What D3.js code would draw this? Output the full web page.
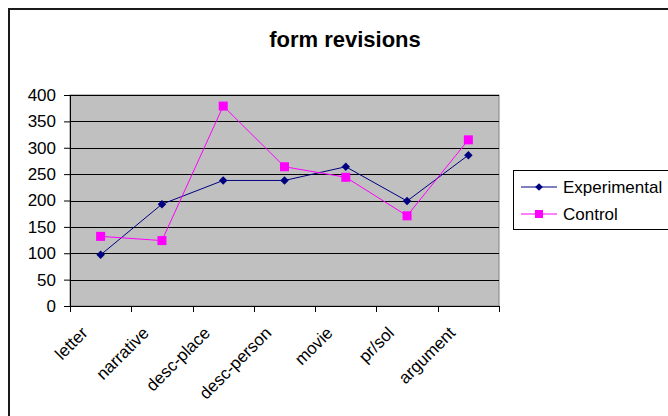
<!DOCTYPE html>
<html>
<head>
<meta charset="utf-8">
<script src="https://cdn.jsdelivr.net/npm/d3@7"></script>
<style>
  html, body { margin: 0; padding: 0; background: #fff; }
  svg { display: block; font-family: "Liberation Sans", Arial, sans-serif; }
</style>
</head>
<body>
<svg id="chart" width="668" height="416"></svg>
<script>
// Writing categories and revision counts per group
const categories = ["letter", "narrative", "desc-place", "desc-person", "movie", "pr/sol", "argument"];
const experimental = [97, 193, 238, 238, 264, 199, 286];
const control = [132, 124, 379, 264, 244, 171, 315];
const yTicks = [0, 50, 100, 150, 200, 250, 300, 350, 400];
const seriesNames = ["Experimental", "Control"];

const svg = d3.select("#chart");
const W = 668, H = 416;
const plot = { left: 70, right: 499, top: 95, bottom: 306 };

// Chart frame (only its top and left edges fall inside the view)
svg.append("path")
  .attr("d", `M9,${H} L9,9 L${W},9`)
  .attr("fill", "none")
  .attr("stroke", "#1a1a1a")
  .attr("stroke-width", 2);

// Title
svg.append("text")
  .attr("x", 345).attr("y", 47)
  .attr("text-anchor", "middle")
  .attr("font-size", 22).attr("font-weight", "bold")
  .text("form revisions");

const x = d3.scaleBand().domain(categories).range([plot.left, plot.right]).padding(0);
const y = d3.scaleLinear().domain([0, 400]).range([plot.bottom, plot.top]);

// Plot background
svg.append("rect")
  .attr("x", plot.left).attr("y", plot.top)
  .attr("width", plot.right - plot.left).attr("height", plot.bottom - plot.top)
  .attr("fill", "#c0c0c0")
  .attr("stroke", "#808080").attr("stroke-width", 1);

// Horizontal gridlines
svg.append("g").selectAll("line").data(yTicks.filter(d => d > 0)).join("line")
  .attr("x1", plot.left).attr("x2", plot.right)
  .attr("y1", d => Math.round(y(d)) + 0.5).attr("y2", d => Math.round(y(d)) + 0.5)
  .attr("stroke", "#000").attr("stroke-width", 1);

// Y axis
const yAxis = d3.axisLeft(y).tickValues(yTicks).tickSize(6).tickPadding(8).tickFormat(d3.format("d"));
const gy = svg.append("g").attr("transform", `translate(${plot.left},0)`).call(yAxis);
gy.select(".domain").attr("stroke", "#000");
gy.selectAll(".tick line").attr("stroke", "#000");
gy.selectAll(".tick text").attr("font-size", 17).attr("fill", "#000")
  .attr("font-family", "'Liberation Sans', Arial, sans-serif");

// X axis with ticks on category boundaries
const boundaries = categories.map(c => x(c)).concat([plot.right]);
svg.append("line")
  .attr("x1", plot.left).attr("x2", plot.right)
  .attr("y1", plot.bottom + 0.5).attr("y2", plot.bottom + 0.5)
  .attr("stroke", "#000");
svg.append("g").selectAll("line").data(boundaries).join("line")
  .attr("x1", d => Math.round(d) + 0.5).attr("x2", d => Math.round(d) + 0.5)
  .attr("y1", plot.bottom).attr("y2", plot.bottom + 6)
  .attr("stroke", "#000");

// Rotated category labels
svg.append("g").selectAll("text").data(categories).join("text")
  .attr("text-anchor", "end")
  .attr("font-size", 17)
  .attr("transform", d => `translate(${x(d) + x.bandwidth() / 2 - 12},${plot.bottom + 28}) rotate(-45)`)
  .text(d => d);

const cx = d => x(d) + x.bandwidth() / 2;
const line = d3.line().x(d => cx(d.c)).y(d => y(d.v));
const toPts = arr => categories.map((c, i) => ({ c, v: arr[i] }));

// Series lines
svg.append("path").datum(toPts(experimental))
  .attr("d", line).attr("fill", "none").attr("stroke", "#000080").attr("stroke-width", 1);
svg.append("path").datum(toPts(control))
  .attr("d", line).attr("fill", "none").attr("stroke", "#ff00ff").attr("stroke-width", 1);

// Control markers: squares
svg.append("g").selectAll("rect").data(toPts(control)).join("rect")
  .attr("x", d => cx(d.c) - 4.5).attr("y", d => y(d.v) - 4.5)
  .attr("width", 9).attr("height", 9).attr("fill", "#ff00ff");

// Experimental markers: diamonds
svg.append("g").selectAll("path").data(toPts(experimental)).join("path")
  .attr("d", d3.symbol().type(d3.symbolSquare).size(36))
  .attr("transform", d => `translate(${cx(d.c)},${y(d.v)}) rotate(45)`)
  .attr("fill", "#000080");

// Legend
const lg = svg.append("g");
lg.append("rect").attr("x", 513.5).attr("y", 170.5).attr("width", 170).attr("height", 59)
  .attr("fill", "#fff").attr("stroke", "#000");
const legendItems = [
  { name: seriesNames[0], color: "#000080", shape: "diamond", yy: 187 },
  { name: seriesNames[1], color: "#ff00ff", shape: "square", yy: 214 }
];
legendItems.forEach(it => {
  lg.append("line").attr("x1", 521).attr("x2", 557).attr("y1", it.yy).attr("y2", it.yy)
    .attr("stroke", it.color);
  if (it.shape === "square") {
    lg.append("rect").attr("x", 539 - 4).attr("y", it.yy - 4).attr("width", 8).attr("height", 8).attr("fill", it.color);
  } else {
    lg.append("path").attr("d", d3.symbol().type(d3.symbolSquare).size(30))
      .attr("transform", `translate(539,${it.yy}) rotate(45)`).attr("fill", it.color);
  }
  lg.append("text").attr("x", 563).attr("y", it.yy + 6).attr("font-size", 17).text(it.name);
});
</script>
</body>
</html>
